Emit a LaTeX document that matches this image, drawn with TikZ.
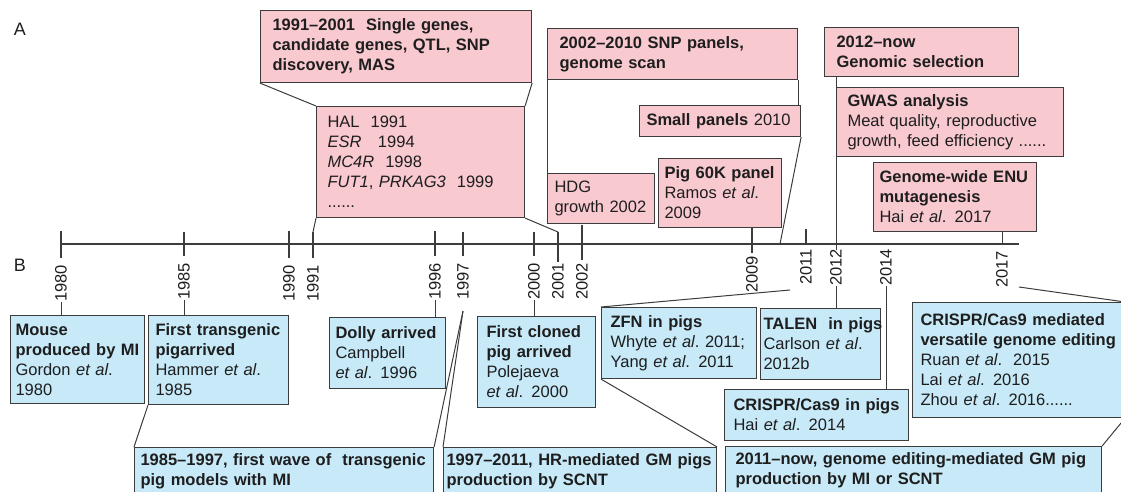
\documentclass[tikz,border=0pt]{standalone}
\usepackage{fontspec}
\setmainfont{Liberation Sans}
\hyphenpenalty=10000
\exhyphenpenalty=10000

\definecolor{pinkfill}{RGB}{249,201,208}
\definecolor{bluefill}{RGB}{199,233,248}
\definecolor{boxline}{RGB}{60,60,60}
\definecolor{inktext}{RGB}{30,30,30}

\tikzset{
  tlbox/.style={draw=boxline, line width=1.1pt, anchor=north west, align=left,
    inner ysep=0pt, text=inktext, font=\fontsize{16.5}{20}\selectfont},
  pinkbox/.style={tlbox, fill=pinkfill},
  bluebox/.style={tlbox, fill=bluefill},
  yearlbl/.style={rotate=90, anchor=west, inner sep=0pt, text=inktext,
    font=\fontsize{16.5}{20}\selectfont},
  axisline/.style={draw=boxline, line width=1.1pt},
  link/.style={draw=boxline, line width=1pt},
}

\begin{document}
\begin{tikzpicture}[x=1pt,y=-1pt]

  \clip (0,0) rectangle (1121,492);

  %-------------------------
  % Letras de panel
  %-------------------------
  \node[text=inktext, font=\fontsize{18}{20}\selectfont] (lblA) at (20,29) {A};
  \node[text=inktext, font=\fontsize{18}{20}\selectfont] (lblB) at (20,265) {B};

  %-------------------------
  % Eje de tiempo
  %-------------------------
  \coordinate (ax0) at (61,244);
  \coordinate (ax1) at (1019,244);
  \draw[axisline] (ax0) -- (ax1);

  % marcas
  \draw[axisline] (61,231) -- (61,258);    % 1980
  \draw[axisline] (184,232) -- (184,256);  % 1985
  \draw[axisline] (289,231) -- (289,258);  % 1990
  \draw[axisline] (313,232) -- (313,258);  % 1991
  \draw[axisline] (435,231) -- (435,256);  % 1996
  \draw[axisline] (463,232) -- (463,256);  % 1997
  \draw[axisline] (534,232) -- (534,256);  % 2000
  \draw[axisline] (558,232) -- (558,262);  % 2001
  \draw[axisline] (582,225) -- (582,260);  % 2002
  \draw[axisline] (752,227) -- (752,253);  % 2009
  \draw[axisline] (806,229) -- (806,244);  % 2011

  % años
  \node[yearlbl] (y1980) at (61,302) {1980};
  \node[yearlbl] (y1985) at (184,300) {1985};
  \node[yearlbl] (y1990) at (289,302) {1990};
  \node[yearlbl] (y1991) at (313,302) {1991};
  \node[yearlbl] (y1996) at (435,300) {1996};
  \node[yearlbl] (y1997) at (463,300) {1997};
  \node[yearlbl] (y2000) at (534,300) {2000};
  \node[yearlbl] (y2001) at (558,300) {2001};
  \node[yearlbl] (y2002) at (582,300) {2002};
  \node[yearlbl] (y2009) at (752,293) {2009};
  \node[yearlbl] (y2011) at (806,285) {2011};
  \node[yearlbl] (y2012) at (836,286) {2012};
  \node[yearlbl] (y2014) at (886,286) {2014};
  \node[yearlbl] (y2017) at (1002,288) {2017};

  % puntos de llegada sobre el eje
  \coordinate (a1991) at (313,232);
  \coordinate (a2001) at (558,232);
  \coordinate (a2010) at (780,244);
  \coordinate (a2012) at (836,250);
  \coordinate (a2017) at (1002,244);
  \coordinate (b1997) at (463,311);
  \coordinate (b2011) at (790,290);
  \coordinate (b2017) at (1019,287);

  %-------------------------
  % Panel A: mejora genética
  %-------------------------
  \node[pinkbox, inner xsep=12pt, text width=247pt, minimum height=72pt] (sgbox) at (260,10)
    {\bfseries 1991–2001~~Single genes,\\ candidate genes, QTL, SNP\\ discovery, MAS};
  \node[pinkbox, inner xsep=11pt, text width=186pt, minimum height=111pt] (halbox) at (316,106)
    {HAL~~1991\\ \textit{ESR}~~~1994\\ \textit{MC4R}~~1998\\ \textit{FUT1}, \textit{PRKAG3}~~1999\\ ......};

  \node[pinkbox, inner xsep=12pt, text width=226pt, minimum height=51pt] (snpbox) at (547,28)
    {\bfseries 2002–2010 SNP panels,\\ genome scan};
  \node[pinkbox, inner xsep=7pt, text width=93pt, minimum height=50pt] (hdgbox) at (547,173)
    {HDG\\ growth~2002};
  \node[pinkbox, inner xsep=7pt, text width=147pt, minimum height=31pt] (smallbox) at (639,105)
    {\textbf{Small~panels}~2010};
  \node[pinkbox, inner xsep=6pt, text width=111pt, minimum height=69pt] (chipbox) at (658,158)
    {\textbf{Pig~60K~panel}\\ Ramos \textit{et al}.\\ 2009};

  \node[pinkbox, inner xsep=12pt, text width=170pt, minimum height=49pt] (gsbox) at (824,27)
    {\bfseries 2012–now\\ Genomic selection};
  \node[pinkbox, inner xsep=11pt, text width=205pt, minimum height=69pt] (gwasbox) at (836,87)
    {\textbf{GWAS analysis}\\ Meat quality, reproductive\\ growth, feed efficiency ......};
  \node[pinkbox, inner xsep=6pt, text width=151pt, minimum height=69pt] (enubox) at (873,162)
    {\textbf{Genome-wide~ENU}\\ \textbf{mutagenesis}\\ Hai \textit{et al}. 2017};

  % conectores del panel A
  \draw[link] (sgbox.south west) -- (halbox.north west);
  \draw[link] (sgbox.south east) -- (halbox.north east);
  \draw[link] (halbox.south west) -- (a1991);
  \draw[link] (halbox.south east) -- (a2001);
  \draw[link] (snpbox.south west) -- (hdgbox.north west);
  \draw[link] (snpbox.south east) -- (snpbox.south east |- smallbox.north);
  \draw[link] (smallbox.south east) -- (a2010);
  \draw[link] (gsbox.south -| a2012) -- (a2012);
  \draw[link] (enubox.south -| a2017) -- (a2017);

  %-------------------------
  % Panel B: cerdos GM
  %-------------------------
  \node[bluebox, inner xsep=5pt, text width=124pt, minimum height=88pt] (mibox) at (10,315)
    {\textbf{Mouse}\\ \textbf{produced~by~MI}\\ Gordon \textit{et al}.\\ 1980};
  \node[bluebox, inner xsep=7pt, text width=126pt, minimum height=89pt] (tgbox) at (148,315)
    {\textbf{First~transgenic}\\ \textbf{pigarrived}\\ Hammer \textit{et al}.\\ 1985};
  \node[bluebox, inner xsep=6pt, text width=104pt, minimum height=71pt] (dollybox) at (329,317)
    {\textbf{Dolly~arrived}\\ Campbell\\ \textit{et al}. 1996};
  \node[bluebox, inner xsep=9pt, text width=100pt, minimum height=91pt] (clonebox) at (477,316)
    {\textbf{First cloned}\\ \textbf{pig arrived}\\ Polejaeva\\ \textit{et al}. 2000};
  \node[bluebox, inner xsep=9pt, text width=137pt, minimum height=71pt] (zfnbox) at (601,307)
    {\textbf{ZFN in pigs}\\ Whyte~\textit{et~al}.~2011;\\ Yang \textit{et al}. 2011};
  \node[bluebox, inner xsep=3pt, text width=114pt, minimum height=71pt] (talenbox) at (760,308)
    {\textbf{TALEN~~in~pigs}\\ Carlson \textit{et al}.\\ 2012b};
  \node[bluebox, inner xsep=9pt, text width=166pt, minimum height=51pt] (casbox) at (724,389)
    {\textbf{CRISPR/Cas9~in~pigs}\\ Hai \textit{et al}. 2014};
  \node[bluebox, inner xsep=8pt, text width=196pt, minimum height=115pt] (editbox) at (912,302)
    {\textbf{CRISPR/Cas9 mediated}\\ \textbf{versatile~genome~editing}\\ Ruan \textit{et al}.~~2015\\
     Lai \textit{et al}. 2016\\ Zhou \textit{et al}. 2016......};

  % periodos (cortados por el borde inferior)
  \node[bluebox, inner xsep=6pt, inner ysep=6pt, text width=287pt, text depth=45pt] (wave1box) at (134,447)
    {\bfseries 1985–1997, first~wave~of~~transgenic\\ pig models with MI};
  \node[bluebox, inner xsep=3pt, inner ysep=6pt, text width=267pt, text depth=45pt] (hrbox) at (443,447)
    {\bfseries 1997–2011, HR-mediated~GM~pigs\\ production by SCNT};
  \node[bluebox, inner xsep=10pt, inner ysep=6pt, text width=356pt, text depth=45pt] (nowbox) at (725,446)
    {\bfseries 2011–now, genome editing-mediated~GM~pig\\ production by MI or SCNT};

  % conectores del panel B
  \draw[link] (y1980.west) -- (y1980.west |- mibox.north);
  \draw[link] (y1985.west) -- (y1985.west |- tgbox.north);
  \draw[link] (y1996.west) -- (y1996.west |- dollybox.north);
  \draw[link] (y2000.west) -- (y2000.west |- clonebox.north);
  \draw[link] (y2012.west) -- (y2012.west |- talenbox.north);
  \draw[link] (y2014.west) -- (y2014.west |- casbox.north);
  \draw[link] (tgbox.south west) -- (wave1box.north west);
  \draw[link] (b1997) -- (wave1box.north east);
  \draw[link] (b1997) -- (hrbox.north west);
  \draw[link] (zfnbox.north west) -- (b2011);
  \draw[link] (zfnbox.south west) -- (hrbox.north east);
  \draw[link] (b2017) -- (editbox.north east);
  \draw[link] (nowbox.north east) -- (editbox.south east);

\end{tikzpicture}
\end{document}
